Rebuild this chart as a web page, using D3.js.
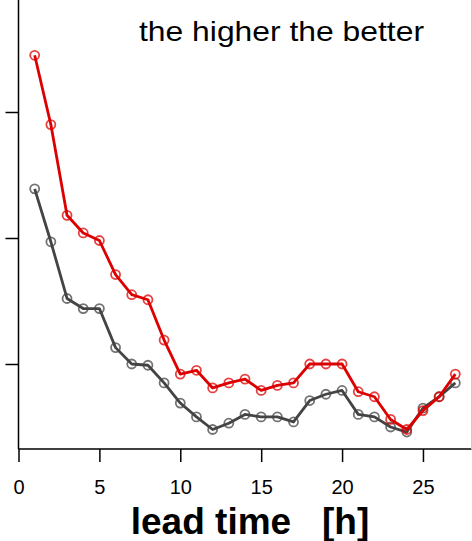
<!DOCTYPE html>
<html>
<head>
<meta charset="utf-8">
<script src="https://cdn.jsdelivr.net/npm/d3@7"></script>
<style>
  body { margin: 0; background: #fff; }
  svg { display: block; font-family: "Liberation Sans", Arial, sans-serif; }
</style>
</head>
<body>
<div id="chart"></div>
<script>
// lead time in hours
const leadTimes = [1, 2, 3, 4, 5, 6, 7, 8, 9, 10, 11, 12, 13, 14, 15, 16, 17, 18, 19, 20, 21, 22, 23, 24, 25, 26, 27];

// score values (y labels are cut off, so units are arbitrary)
const redScores = [0.645, 0.590, 0.518, 0.504, 0.498, 0.471, 0.455, 0.451, 0.419, 0.392, 0.395, 0.381, 0.385,
  0.388, 0.379, 0.383, 0.385, 0.400, 0.400, 0.400, 0.378, 0.374, 0.356, 0.348, 0.363, 0.374, 0.392];
const greyScores = [0.539, 0.497, 0.452, 0.444, 0.444, 0.413, 0.400, 0.399, 0.385, 0.369, 0.358, 0.348, 0.353,
  0.360, 0.358, 0.358, 0.354, 0.371, 0.376, 0.379, 0.360, 0.358, 0.350, 0.346, 0.365, 0.374, 0.385];

const xTicks = [0, 5, 10, 15, 20, 25];
const yTicks = [0.4, 0.5, 0.6];

const config = {
  containerWidth: 472,
  containerHeight: 541,
  margin: { top: -2, right: 0.5, bottom: 92, left: 18.5 },
};

const width = config.containerWidth - config.margin.left - config.margin.right;
const height = config.containerHeight - config.margin.top - config.margin.bottom;

const svg = d3.select('#chart').append('svg')
  .attr('width', config.containerWidth)
  .attr('height', config.containerHeight);

const chartArea = svg.append('g')
  .attr('transform', `translate(${config.margin.left},${config.margin.top})`);

const xScale = d3.scaleLinear()
  .domain([0, 28])
  .range([0, width]);

// 0.1 units = 126 px, 0.4 sits at y=364
const yScale = d3.scaleLinear()
  .domain([0.4, 0.6])
  .range([364 - config.margin.top, 112 - config.margin.top]);

// box (left and bottom black, right edge faint)
chartArea.append('line')
  .attr('x1', 0).attr('x2', 0).attr('y1', 0).attr('y2', height)
  .attr('stroke', '#000').attr('stroke-width', 1.5);
chartArea.append('line')
  .attr('x1', 0).attr('x2', width).attr('y1', height).attr('y2', height)
  .attr('stroke', '#000').attr('stroke-width', 1.5);
chartArea.append('line')
  .attr('x1', width).attr('x2', width).attr('y1', 0).attr('y2', height)
  .attr('stroke', '#ccc').attr('stroke-width', 1);

// axes
const xAxis = d3.axisBottom(xScale).tickValues(xTicks).tickSize(13).tickPadding(18);
const xAxisG = chartArea.append('g')
  .attr('transform', `translate(0,${height})`)
  .call(xAxis);
xAxisG.select('.domain').remove();
xAxisG.selectAll('.tick line').attr('stroke', '#000').attr('stroke-width', 1.5);
xAxisG.selectAll('.tick text')
  .attr('font-size', 20)
  .attr('font-family', '"Liberation Sans", Arial, sans-serif')
  .attr('fill', '#000');

const yAxis = d3.axisLeft(yScale).tickValues(yTicks).tickSize(13).tickFormat('');
const yAxisG = chartArea.append('g').call(yAxis);
yAxisG.select('.domain').remove();
yAxisG.selectAll('.tick line').attr('stroke', '#000').attr('stroke-width', 1.5);

// series
const series = [
  { name: 'grey', values: greyScores, color: '#444444' },
  { name: 'red', values: redScores, color: '#dd0000' },
];

const line = d3.line()
  .x((d) => xScale(d[0]))
  .y((d) => yScale(d[1]));

series.forEach((s) => {
  const pts = leadTimes.map((t, i) => [t, s.values[i]]);
  const g = chartArea.append('g').attr('class', `series-${s.name}`);
  g.append('path')
    .datum(pts)
    .attr('fill', 'none')
    .attr('stroke', s.color)
    .attr('stroke-width', 2.8)
    .attr('stroke-linejoin', 'round')
    .attr('d', line);
  g.selectAll('circle')
    .data(pts)
    .join('circle')
    .attr('cx', (d) => xScale(d[0]))
    .attr('cy', (d) => yScale(d[1]))
    .attr('r', 4.5)
    .attr('fill', 'none')
    .attr('stroke', s.color)
    .attr('stroke-opacity', 0.75)
    .attr('stroke-width', 1.8);
});

// annotation and axis title
svg.append('text')
  .attr('x', 139)
  .attr('y', 41)
  .attr('font-size', 28)
  .attr('textLength', 285)
  .attr('lengthAdjust', 'spacingAndGlyphs')
  .attr('fill', '#000')
  .text('the higher the better');

svg.append('text')
  .attr('x', 250)
  .attr('y', 534)
  .attr('text-anchor', 'middle')
  .attr('font-size', 37)
  .attr('font-weight', 'bold')
  .attr('fill', '#000')
  .style('white-space', 'pre')
  .text('lead time   [h]');
</script>
</body>
</html>
